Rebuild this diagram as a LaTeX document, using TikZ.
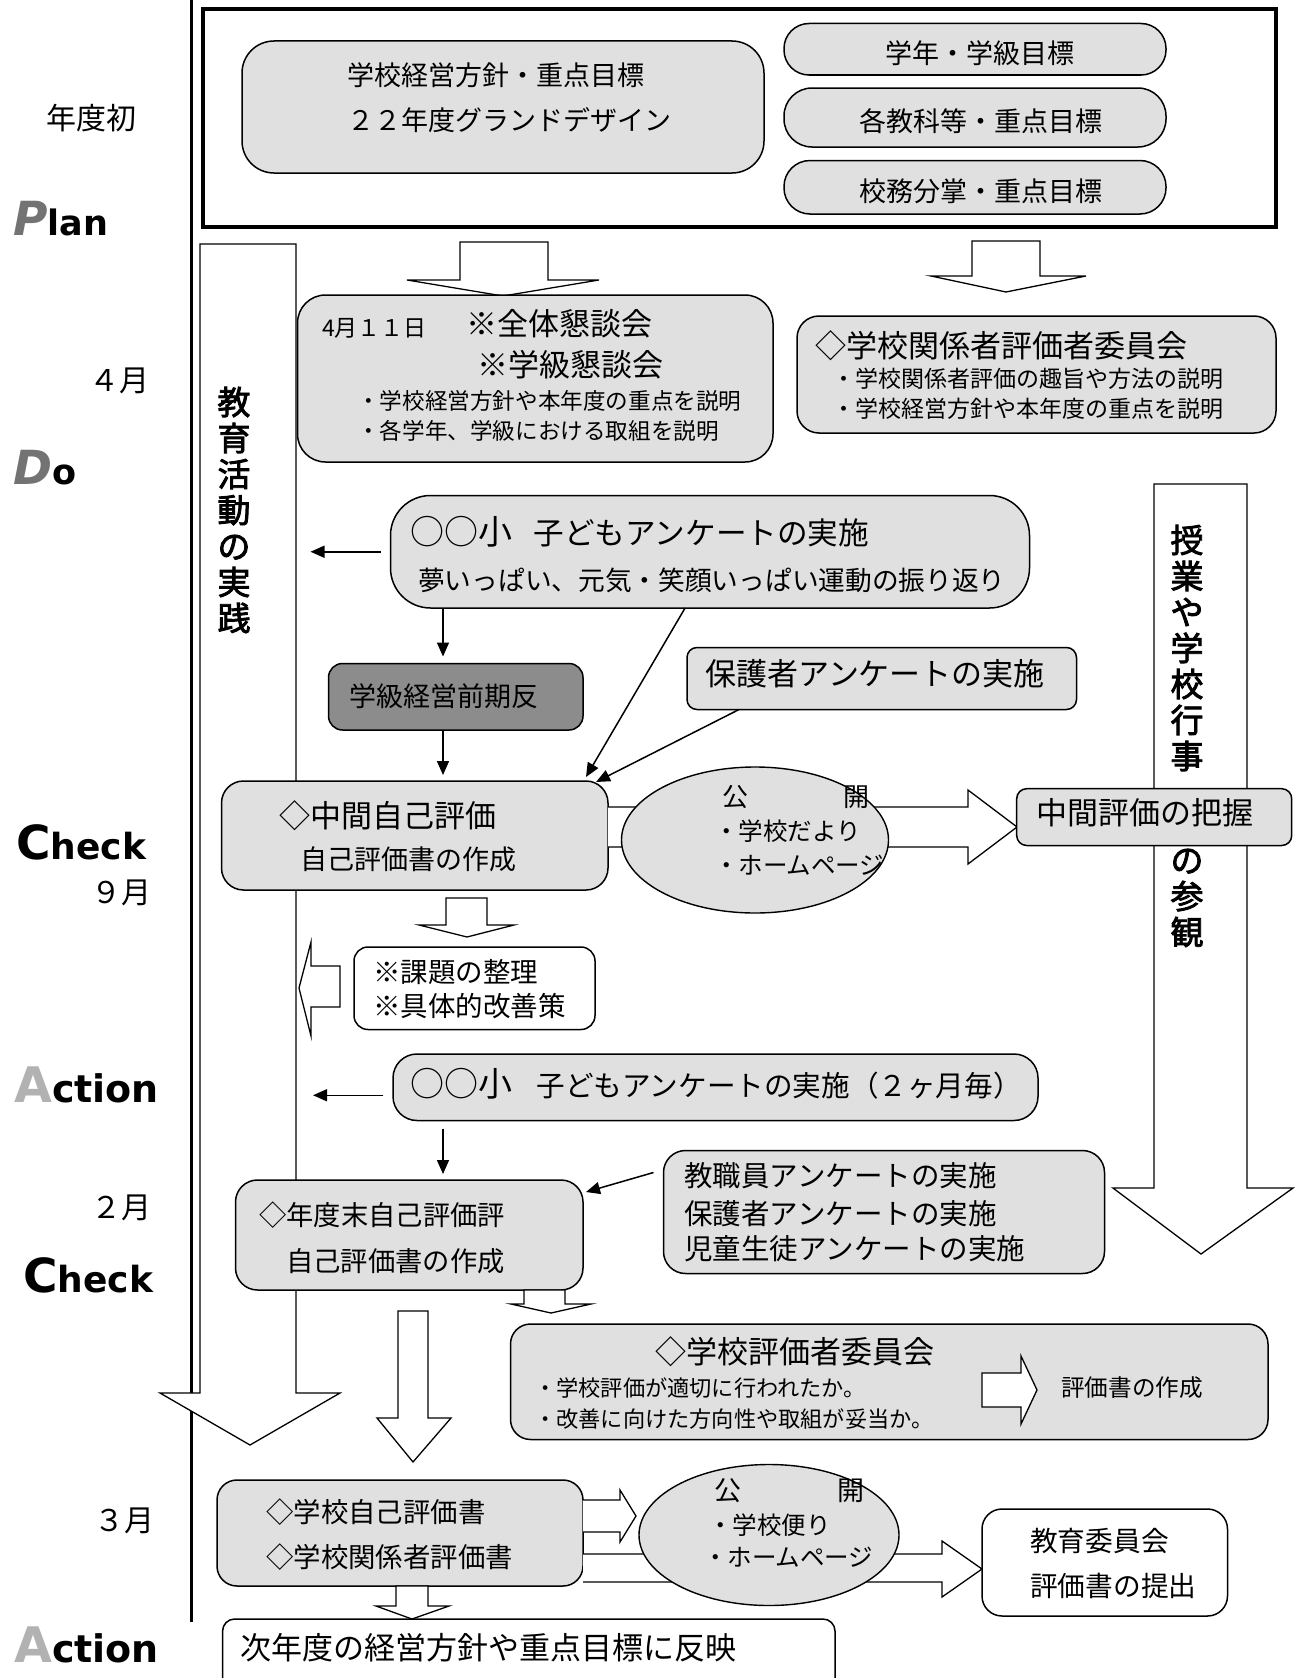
\documentclass[tikz,border=0pt]{standalone}
\usepackage{fontspec}
\setmainfont{Noto Sans CJK JP}
\newfontfamily\vbold{Noto Sans CJK JP}[FakeBold=2.5]
\newfontfamily\latbold{DejaVu Sans}
\usetikzlibrary{arrows.meta,calc,fit,shapes.geometric}
\newcommand\txtL[5]{\node[anchor=base west,inner sep=0pt,font=\fontsize{#4}{#4}\selectfont] (#1) at (#2,{#3+0.38*#4}) {#5};}
\newcommand\txtC[5]{\node[anchor=base,inner sep=0pt,font=\fontsize{#4}{#4}\selectfont] (#1) at (#2,{#3+0.38*#4}) {#5};}
\newcommand\txtR[5]{\node[anchor=base east,inner sep=0pt,font=\fontsize{#4}{#4}\selectfont] (#1) at (#2,{#3+0.38*#4}) {#5};}
\newcommand\bx[5]{\node[#2,rounded corners=#3pt,fit={(#4) (#5)}] (#1) {};}
\begin{document}
\begin{tikzpicture}[x=1pt,y=-1pt,
 gbox/.style={draw,line width=1.5pt,fill=black!12,inner sep=0pt,outer sep=0pt},
 wbox/.style={draw,line width=1.5pt,fill=white,inner sep=0pt,outer sep=0pt},
 dbox/.style={draw,line width=1.5pt,fill=black!45,inner sep=0pt,outer sep=0pt},
 blk/.style={draw,line width=1.3pt,fill=white,line join=miter},
 opn/.style={line width=1.3pt,line join=miter},
 arr/.style={line width=1.5pt,-{Triangle[length=14pt,width=12pt]}},
 ell/.style={ellipse,draw,line width=1.4pt,fill=black!12,inner sep=0pt},
 vtext/.style={align=center,inner sep=0pt,font=\vbold\fontsize{33}{36}\selectfont},
 pdca/.style={anchor=base west,inner sep=0pt,font=\latbold\bfseries}
]
\useasboundingbox (0,0) rectangle (1295,1678);
\fill[white] (0,0) rectangle (1295,1678);

% left time axis
\draw[line width=3pt] (191,0) -- (191,1622);

% labels on the left
\txtC{lb1}{91}{118}{30}{年度初}
\txtR{lb2}{150}{380}{30}{４月}
\txtR{lb3}{152}{892}{30}{９月}
\txtR{lb4}{152}{1207}{30}{２月}
\txtR{lb5}{155}{1520}{30}{３月}
\node[pdca] (plan) at (13,235) {{\fontsize{47}{47}\selectfont\color{black!55}\itshape P}\fontsize{35}{35}\selectfont lan};
\node[pdca] (do) at (13,484) {{\fontsize{47}{47}\selectfont\color{black!55}\itshape D}\fontsize{35}{35}\selectfont o};
\node[pdca] (check1) at (16,859) {{\fontsize{47}{47}\selectfont C}\fontsize{36}{36}\selectfont heck};
\node[pdca] (action1) at (14,1102) {{\fontsize{49}{49}\selectfont\color{black!30}A}\fontsize{38}{38}\selectfont ction};
\node[pdca] (check2) at (23,1292) {{\fontsize{47}{47}\selectfont C}\fontsize{36}{36}\selectfont heck};
\node[pdca] (action2) at (14,1662) {{\fontsize{49}{49}\selectfont\color{black!30}A}\fontsize{38}{38}\selectfont ction};

% Plan frame
\node[draw,line width=3.2pt,inner sep=0pt,fit={(203,9) (1276,227)}] (frame) {};
\bx{policy}{gbox}{32}{242,41}{764,173}
\txtL{t1}{347}{75}{27}{学校経営方針・重点目標}
\txtL{t2}{347}{120}{27}{２２年度グランドデザイン}
\bx{pill1}{gbox}{25}{784,23.5}{1166,75}
\bx{pill2}{gbox}{28}{784,88}{1166,147}
\bx{pill3}{gbox}{26}{784,160.5}{1166,214}
\txtC{t3}{980}{53}{27}{学年・学級目標}
\txtC{t4}{981}{121}{27}{各教科等・重点目標}
\txtC{t5}{981}{191}{27}{校務分掌・重点目標}

% arrows out of plan frame
\draw[blk] (460,242) -- (548,242) -- (548,280) -- (599,280) -- (503,296) -- (407,280) -- (460,280) -- cycle;
\draw[blk] (972,241) -- (1040,241) -- (1040,276) -- (1086,276) -- (1006,292) -- (931,276) -- (972,276) -- cycle;

% big column arrows
\draw[blk] (200,244) -- (296,244) -- (296,1393) -- (340,1393) -- (250,1445) -- (160,1393) -- (200,1393) -- cycle;
\node[vtext] (vleft) at (234,510) {教\\育\\活\\動\\の\\実\\践};
\draw[blk] (1154,484) -- (1247,484) -- (1247,1188) -- (1293,1188) -- (1201,1254) -- (1113,1188) -- (1154,1188) -- cycle;
\node[vtext] (vright1) at (1187,648) {授\\業\\や\\学\\校\\行\\事};
\node[vtext] (vright2) at (1187,898) {の\\参\\観};

% April meetings
\bx{apr}{gbox}{28}{297.5,295}{773,462}
\txtL{t6}{322}{327.5}{23}{4月１１日}
\txtL{t7}{466}{324}{31}{※全体懇談会}
\txtL{t8}{477}{365}{31}{※学級懇談会}
\txtL{t9}{357}{401}{22.6}{・学校経営方針や本年度の重点を説明}
\txtL{t10}{357}{431}{22.6}{・各学年、学級における取組を説明}

\bx{kankei}{gbox}{22}{797,316}{1276,433}
\txtL{t11}{815}{346}{31}{◇学校関係者評価者委員会}
\txtL{t12}{832}{379}{23}{・学校関係者評価の趣旨や方法の説明}
\txtL{t13}{832}{409}{23}{・学校経営方針や本年度の重点を説明}

% child survey
\bx{kodomo}{gbox}{40}{390.5,495.5}{1029.5,608}
\txtL{t14}{410}{533}{30.6}{{\fontsize{34}{34}\selectfont ○○小}\hspace{0.7em}子どもアンケートの実施}
\txtL{t15}{418}{580}{26.7}{夢いっぱい、元気・笑顔いっぱい運動の振り返り}

\bx{dark}{dbox}{14}{328.5,663.5}{583,730}
\txtL{t16}{349}{696}{27}{学級経営前期反}

\bx{hogosha}{gbox}{10}{687,647.5}{1076.5,709.5}
\txtL{t17}{705}{674}{31}{保護者アンケートの実施}

\bx{chukan}{gbox}{22}{221.5,781}{608,890}
\txtL{t18}{279}{815.5}{31}{◇中間自己評価}
\txtL{t19}{300}{859}{27}{自己評価書の作成}

% block arrow to mid-term grasp, then ellipse
\fill[white] (608,807) -- (968,807) -- (968,790) -- (1017,827) -- (968,864) -- (968,847) -- (608,847) -- cycle;
\draw[opn] (608,807) -- (968,807) -- (968,790) -- (1017,827) -- (968,864) -- (968,847) -- (608,847);
\node[ell,minimum width=267pt,minimum height=146pt] (kokai1) at (755,840) {};
\txtL{t20}{722}{797}{26}{公\hspace{3.65em}開}
\txtL{t21}{714}{831.5}{24.5}{・学校だより}
\txtL{t22}{714}{865}{24.5}{・ホームページ}

\bx{haaku}{gbox}{10}{1016.7,788.7}{1291.7,845.5}
\txtL{t23}{1036}{813}{31}{中間評価の把握}

% issues
\draw[blk] (446,898) -- (487,898) -- (487,925) -- (514,925) -- (467,937) -- (419,925) -- (446,925) -- cycle;
\bx{kadai}{wbox}{14}{354,947}{595,1029.5}
\txtL{t24}{373}{972}{27.5}{※課題の整理}
\txtL{t25}{373}{1006}{27.5}{※具体的改善策}
\draw[blk] (340,966) -- (340,1007) -- (311,1007) -- (311,1036) -- (299,988) -- (311,942) -- (311,966) -- cycle;

% child survey every 2 months
\bx{kodomo2}{gbox}{24}{393,1054}{1038,1120.5}
\txtL{t26}{410}{1086}{28.6}{{\fontsize{34}{34}\selectfont ○○小}\hspace{0.85em}子どもアンケートの実施（２ヶ月毎）}

\bx{nendo}{gbox}{22}{235.5,1180}{583,1290}
\txtL{t27}{259}{1215}{27.3}{◇年度末自己評価評}
\txtL{t28}{286}{1261}{27.3}{自己評価書の作成}

\bx{kyoshoku}{gbox}{22}{663.5,1150.5}{1104.5,1273.5}
\txtL{t29}{684}{1176}{28.5}{教職員アンケートの実施}
\txtL{t30}{684}{1213.5}{28.5}{保護者アンケートの実施}
\txtL{t31}{684}{1249}{28.5}{児童生徒アンケートの実施}

\draw[blk] (524,1290) -- (565,1290) -- (565,1304) -- (591,1304) -- (551,1313) -- (511,1304) -- (524,1304) -- cycle;

% school evaluation committee
\bx{hyoka}{gbox}{20}{510.5,1324}{1268,1439.5}
\txtL{t32}{655}{1352}{31}{◇学校評価者委員会}
\txtL{t33}{534}{1388}{22.2}{・学校評価が適切に行われたか。}
\txtL{t34}{534}{1419}{22.2}{・改善に向けた方向性や取組が妥当か。}
\draw[blk] (982,1373) -- (1021,1373) -- (1021,1356) -- (1037,1390) -- (1021,1424) -- (1021,1407) -- (982,1407) -- cycle;
\txtL{t35}{1061}{1388}{23.6}{評価書の作成}

\draw[blk] (398,1311) -- (428,1311) -- (428,1418) -- (451,1418) -- (413,1462) -- (377,1418) -- (398,1418) -- cycle;

% final reports
\bx{jiko}{gbox}{20}{217,1480}{583,1586}
\txtL{t36}{266}{1512}{27.4}{◇学校自己評価書}
\txtL{t37}{266}{1557}{27.4}{◇学校関係者評価書}

\fill[white] (583,1500) -- (620,1500) -- (620,1490) -- (636,1516) -- (620,1542) -- (620,1532) -- (583,1532) -- cycle;
\draw[opn] (583,1500) -- (620,1500) -- (620,1490) -- (636,1516) -- (620,1542) -- (620,1532) -- (583,1532);
\fill[white] (583,1554) -- (942,1554) -- (942,1541) -- (982,1569) -- (942,1597) -- (942,1582) -- (583,1582) -- cycle;
\draw[opn] (583,1554) -- (942,1554) -- (942,1541) -- (982,1569) -- (942,1597) -- (942,1582) -- (583,1582);

\node[ell,minimum width=260pt,minimum height=141pt] (kokai2) at (769,1535) {};
\txtL{t38}{714}{1490}{27}{公\hspace{3.56em}開}
\txtL{t39}{708}{1525}{24.5}{・学校便り}
\txtL{t40}{703}{1557}{24.5}{・ホームページ}

\bx{kyoiku}{wbox}{20}{982,1509}{1227.5,1616}
\txtL{t41}{1030}{1541}{27.7}{教育委員会}
\txtL{t42}{1030}{1586}{27.7}{評価書の提出}

\draw[blk] (396,1586) -- (428,1586) -- (428,1606) -- (449,1606) -- (412,1619) -- (376,1606) -- (396,1606) -- cycle;
\bx{jinendo}{wbox}{12}{222.6,1619}{835,1700}
\txtL{t43}{240}{1648}{31}{次年度の経営方針や重点目標に反映}

% thin connectors
\coordinate (colA) at (443,0);
\draw[arr] ([xshift=-10pt]kodomo.west) -- ++(-70,0);
\draw[arr] (kodomo.south -| colA) -- ($(dark.north -| colA)+(0,-7)$);
\draw[arr] (dark.south -| colA) -- ($(chukan.north -| colA)+(0,-6)$);
\draw[arr] ($(kodomo.south west)!0.461!(kodomo.south east)$) -- ($(chukan.north east)+(-22,-4)$);
\draw[arr] ($(hogosha.south west)+(52,0)$) -- ($(chukan.north east)+(-12,1)$);
\draw[arr] ([xshift=-10pt,yshift=-8pt]kodomo2.west) -- ++(-70,0);
\draw[arr] ($(kodomo2.south -| colA)+(0,8)$) -- ($(nendo.north -| colA)+(0,-6)$);
\draw[arr] ($(kyoshoku.north west)+(-10,22)$) -- ($(nendo.north east)+(3,12)$);
\end{tikzpicture}
\end{document}
